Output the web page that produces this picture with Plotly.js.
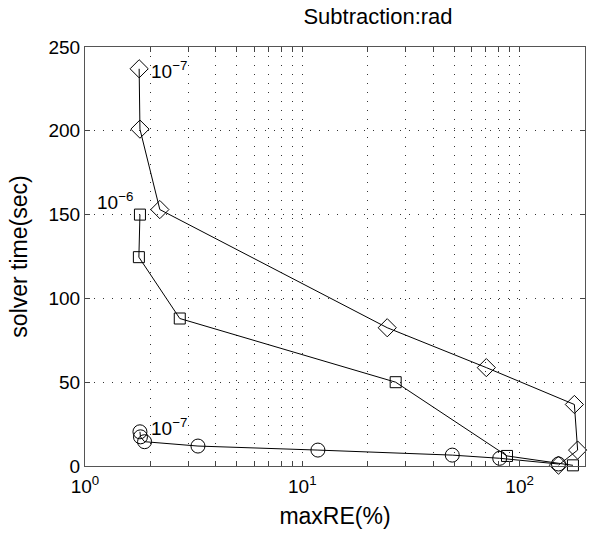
<!DOCTYPE html>
<html>
<head>
<meta charset="utf-8">
<script src="https://cdn.plot.ly/plotly-3.0.1.min.js"></script>
<style>
  html, body { margin: 0; padding: 0; background: #fff; }
  #plot { width: 600px; height: 544px; }
</style>
</head>
<body>
<div id="plot"></div>
<script>
// values
let diamondX = [1.775, 1.79, 2.21, 24.6, 70.3, 178.7, 185, 151];
let diamondY = [237, 201, 153, 82.5, 58.7, 36.7, 9.5, 0.5];

let squareX = [1.79, 1.77, 2.73, 26.9, 87.5, 176];
let squareY = [150, 124.6, 88, 50, 6, 0.4];

let circleX = [1.79, 1.8, 1.88, 3.31, 11.8, 49, 81, 151];
let circleY = [20.4, 17.4, 14.5, 11.9, 9.5, 6.5, 4.6, 1.2];

let labelText = ["10<sup>−7</sup>", "10<sup>−6</sup>", "10<sup>−7</sup>"];
let labelX = [1.97, 1.7, 1.97];
let labelY = [237, 150, 20];
let labelShift = [-1, 14, 5];

// log gridlines at 1..9 x 10^k
let xTicks = [], xTickText = [];
for (let k = 0; k <= 2; k++) {
    for (let m = 1; m <= 9; m++) {
        let v = m * Math.pow(10, k);
        if (v > 200) break;
        xTicks.push(v);
        xTickText.push(m === 1 ? "10<sup>" + k + "</sup>" : "");
    }
}

function series(x, y, symbol, size) {
    return {
        x: x, y: y,
        type: 'scatter',
        mode: 'lines+markers',
        line: { color: 'black', width: 1 },
        marker: { symbol: symbol, size: size, color: 'black', line: { color: 'black', width: 1 } },
        cliponaxis: false,
        showlegend: false
    };
}

let traces = [
    series(diamondX, diamondY, 'diamond-open', 14),
    series(squareX, squareY, 'square-open', 11),
    series(circleX, circleY, 'circle-open', 14)
];

let annotations = labelText.map((t, i) => ({
    x: Math.log10(labelX[i]), y: labelY[i],
    xref: 'x', yref: 'y',
    text: t, showarrow: false,
    xanchor: i === 1 ? 'right' : 'left',
    yanchor: 'middle',
    yshift: labelShift[i],
    font: { family: 'Liberation Sans, Arial, sans-serif', size: 19, color: 'black' }
}));

let layout = {
    width: 600, height: 544,
    margin: { l: 85, r: 15, t: 47, b: 78 },
    paper_bgcolor: 'white',
    plot_bgcolor: 'white',
    font: { family: 'Liberation Sans, Arial, sans-serif', color: 'black', size: 19 },
    title: { text: 'Subtraction:rad', x: 0.63, xanchor: 'center', y: 0.985, yanchor: 'top', font: { size: 22 } },
    xaxis: {
        type: 'log',
        range: [0, Math.log10(200)],
        tickvals: xTicks, ticktext: xTickText,
        tickfont: { size: 19 },
        ticklabelstandoff: 3,
        ticks: 'inside', ticklen: 5, tickcolor: '#444',
        showgrid: true, gridcolor: '#333', griddash: '1px,8px', gridwidth: 1,
        showline: true, linecolor: '#555', linewidth: 1, mirror: 'ticks',
        zeroline: false,
        title: { text: 'maxRE(%)', font: { size: 23 }, standoff: 12 }
    },
    yaxis: {
        range: [0, 250],
        tickvals: [0, 50, 100, 150, 200, 250],
        tickfont: { size: 19 },
        ticks: 'inside', ticklen: 5, tickcolor: '#444',
        showgrid: true, gridcolor: '#333', griddash: '1px,8px', gridwidth: 1,
        showline: true, linecolor: '#555', linewidth: 1, mirror: 'ticks',
        zeroline: false,
        title: { text: 'solver time(sec)', font: { size: 23 }, standoff: 14 }
    },
    annotations: annotations
};

Plotly.newPlot('plot', traces, layout, { staticPlot: true });
</script>
</body>
</html>
